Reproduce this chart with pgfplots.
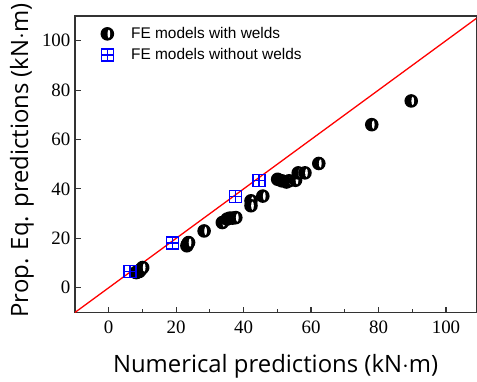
\documentclass[border=0pt]{standalone}
\usepackage{pgfplots}
\pgfplotsset{compat=1.18}
\usepackage{fontspec}
\setmainfont{Liberation Serif}
\newfontfamily\tickfont{Liberation Serif}
\newfontfamily\labfont{Open Sans}
\newfontfamily\legfont{Liberation Sans}
\pgfdeclareplotmark{halfdot}{%
  \pgfsetfillcolor{black}%
  \pgfpathcircle{\pgfpointorigin}{\pgfplotmarksize}%
  \pgfusepathqfill
  \pgfsetfillcolor{white}%
  \pgfpathellipse{\pgfpoint{0.22\pgfplotmarksize}{0pt}}{\pgfpoint{0.2\pgfplotmarksize}{0pt}}{\pgfpoint{0pt}{0.62\pgfplotmarksize}}%
  \pgfusepathqfill}
\pgfdeclareplotmark{gridsq}{%
  \pgfpathrectangle{\pgfpoint{-\pgfplotmarksize}{-\pgfplotmarksize}}{\pgfpoint{2\pgfplotmarksize}{2\pgfplotmarksize}}%
  \pgfpathmoveto{\pgfpoint{-\pgfplotmarksize}{0pt}}\pgfpathlineto{\pgfpoint{\pgfplotmarksize}{0pt}}%
  \pgfpathmoveto{\pgfpoint{0pt}{-\pgfplotmarksize}}\pgfpathlineto{\pgfpoint{0pt}{\pgfplotmarksize}}%
  \pgfusepathqstroke}
\definecolor{axgray}{HTML}{333333}
\begin{document}
\begin{tikzpicture}[x=1bp,y=1bp]
\begin{axis}[
  scale only axis,
  width=402bp, height=297bp,
  xmin=-10, xmax=109, ymin=-10, ymax=110,
  xtick={0,20,40,60,80,100},
  ytick={0,20,40,60,80,100},
  minor xtick={10,30,50,70,90},
  tick align=inside,
  xtick pos=bottom, ytick pos=left,
  major tick length=6bp, minor tick length=4bp,
  axis line style={axgray, line width=1.3bp},
  every tick/.style={axgray, line width=1.1bp},
  tick label style={font=\tickfont\fontsize{19}{19}\selectfont},
  xticklabel style={yshift=-5bp},
  yticklabel style={xshift=-1bp},
  /pgf/number format/assume math mode=true,
  xlabel={\labfont\fontsize{24}{24}\selectfont Numerical predictions (kN$\cdot$m)},
  ylabel={\labfont\fontsize{24}{24}\selectfont Prop. Eq. predictions (kN$\cdot$m)},
  xlabel style={at={(axis description cs:0.5,-0.182)}, anchor=center},
  ylabel style={at={(axis description cs:-0.132,0.513)}, anchor=center},
  legend style={draw=none, fill=none, at={(0.056,0.975)}, anchor=north west,
    font=\legfont\fontsize{15.5}{15.5}\selectfont, row sep=4.5bp,
    /tikz/every odd column/.style={column sep=15bp}},
  legend cell align=left,
  clip=true,
]
\addplot[red, line width=1.3bp, forget plot] coordinates {(-10,-10) (110,110)};
\addplot[only marks, mark=halfdot, mark size=6.8bp] coordinates {
(8.1,6.2) (8.3,6.2) (9.1,6.6) (9.6,7.5) (10.1,8.2)
(23.2,17.0) (23.4,17.7) (23.7,18.3)
(28.3,23.0)
(33.7,26.4) (35.1,27.8) (35.9,28.2) (36.8,28.2) (37.7,28.4)
(42.2,35.2) (42.2,33.2)
(45.7,37.1)
(50.1,43.9) (51.3,43.3) (52.7,42.8) (53.5,43.3) (55.4,43.5) (56.2,46.5) (58.2,46.5)
(62.3,50.3)
(78.0,66.0)
(89.7,75.6)
};
\addlegendentry{FE models with welds}
\addplot[only marks, mark=gridsq, mark size=6bp,
  mark options={draw=blue, line width=1.3bp}] coordinates {
(6.3,6.6) (19.0,18.1) (37.7,37.0) (44.6,43.3)
};
\addlegendentry{FE models without welds}
\end{axis}
\path ([yshift=15bp]current axis.north east);
\path ([xshift=-75bp,yshift=-62bp]current axis.south west);
\end{tikzpicture}
\end{document}
